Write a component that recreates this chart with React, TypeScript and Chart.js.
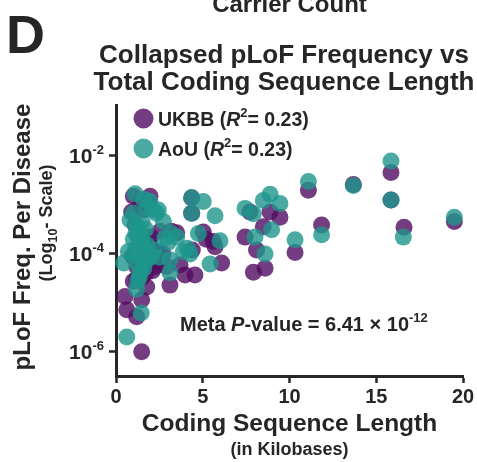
import React, { useEffect, useRef } from "react";
import { Chart, registerables } from "chart.js";

Chart.register(...registerables);

// ---- Data (x: coding sequence length in kb, y: pLoF frequency per disease) ----
const ukbbX = [
  15.85, 15.85, 13.68, 11.09, 19.5, 16.6, 11.85, 10.32, 8.88, 9.45, 7.72, 7.44, 8.49, 8.1, 7.92, 8.59,
  4.36, 4.36, 5.03, 5.61, 5.71, 6.09, 3.98, 4.55, 3.11, 3.5, 3.19, 1.96, 1.0, 0.9, 0.52, 0.62, 1.19,
  1.0, 1.48, 1.48, 1.77, 2.44, 2.25, 3.69, 2.54, 2.34, 2.92, 1.19, 1.19, 2.35, 1.3, 1.5, 1.6, 1.8,
  1.4, 2.0, 2.1, 1.7, 1.2, 0.95, 1.1, 2.0, 1.5, 2.7, 1.6, 1.4, 4.4, 5.2, 2.2, 1.9,
];
const ukbbFreq = [
  4.6e-3, 1.26e-3, 2.6e-3, 2.0e-3, 4.6e-4, 3.5e-4, 3.9e-4, 1.07e-4, 7.2e-4, 5.6e-4, 7.2e-4, 2.2e-4, 3.6e-4, 1.2e-4, 4.2e-5, 5.1e-5,
  1.4e-3, 6.8e-4, 2.8e-4, 1.8e-4, 1.4e-4, 6.5e-5, 3.7e-5, 3.7e-5, 2.3e-5, 2.7e-4, 2.9e-4, 1.5e-3, 1.5e-3, 7.2e-4, 1.35e-5, 7.2e-6, 5.2e-6,
  2.75e-5, 1.15e-5, 1.0e-6, 2.1e-5, 7.6e-5, 5.5e-5, 6.0e-5, 2.9e-4, 7.6e-5, 5.5e-5, 3.0e-5, 5.5e-5, 1.1e-4, 2.5e-4, 1.5e-4, 9e-5, 6e-5,
  7e-5, 1.3e-4, 4.5e-5, 4e-5, 1.1e-4, 9e-5, 4e-4, 2.2e-4, 3.3e-5, 1.0e-4, 8e-4, 1.1e-3, 1.2e-4, 2.0e-4, 6.5e-5, 1.7e-4,
];

const aouX = [
  15.85, 15.85, 13.68, 11.09, 19.5, 16.56, 11.85, 10.32, 8.88, 8.49, 9.45, 7.44, 7.92, 8.97, 8.01, 8.59,
  5.71, 5.03, 4.36, 4.36, 4.75, 5.99, 5.42, 4.27, 3.88, 3.11, 3.11, 3.5, 2.82, 2.73, 2.44, 1.96, 1.1,
  1.0, 0.81, 0.71, 0.45, 1.19, 1.45, 0.62, 2.34, 1.6, 1.8, 2.1, 4.1, 3.2, 3.0,
  1.2, 1.3, 1.4, 1.5, 1.3, 1.4, 1.6, 1.2, 1.5, 1.7, 1.3, 1.6, 1.4, 1.8, 1.9, 2.0, 1.1, 1.0, 1.7, 1.5,
  2.2, 1.25, 1.35, 2.5, 1.15, 1.55,
];
const aouFreq = [
  7.9e-3, 1.26e-3, 2.5e-3, 3.0e-3, 5.6e-4, 2.2e-4, 2.45e-4, 1.95e-4, 1.66e-3, 1.23e-3, 1.07e-3, 8.5e-4, 6.6e-4, 3.1e-4, 2.2e-4, 1.0e-4,
  6.0e-4, 1.17e-3, 1.4e-3, 6.8e-4, 2.6e-4, 1.85e-4, 6.2e-5, 1.0e-4, 1.12e-4, 7.6e-5, 4.1e-5, 2.2e-4, 2.1e-4, 4.6e-4, 7.9e-4, 1.17e-3, 1.7e-3,
  6.8e-4, 4.9e-4, 1.12e-4, 6.5e-5, 1.9e-5, 6.2e-6, 2.0e-6, 6.8e-4, 1.3e-3, 9e-4, 8e-4, 1.3e-4, 2.6e-4, 1.7e-4,
  3.8e-4, 3.0e-4, 2.4e-4, 2.0e-4, 1.6e-4, 1.3e-4, 1.1e-4, 9e-5, 8e-5, 7e-5, 6e-5, 5e-5, 4.3e-5, 1.5e-4, 1.0e-4, 8.5e-5, 1.2e-4, 2.0e-4, 3.2e-4, 4.5e-4,
  1.2e-4, 2.8e-5, 3.5e-5, 8.5e-5, 2.6e-4, 1.45e-4,
];

const xTicks = [0, 5, 10, 15, 20];
const yTickExponents = [-6, -4, -2];
const seriesNames = ["UKBB", "AoU"];
const rSquared = ["0.23", "0.23"];
const metaPMantissa = "6.41";
const metaPExponent = "-12";

const FONT = '"Liberation Sans", Arial, Helvetica, sans-serif';
const INK = "#262626";
const PURPLE = "rgba(82, 12, 98, 0.8)";
const TEAL = "rgba(30, 150, 140, 0.8)";

function drawRich(ctx: CanvasRenderingContext2D, x: number, y: number, parts: { t: string; size: number; italic?: boolean; dy?: number }[]) {
  let cx = x;
  for (const p of parts) {
    ctx.font = `${p.italic ? "italic " : ""}bold ${p.size}px ${FONT}`;
    ctx.fillText(p.t, cx, y + (p.dy || 0));
    cx += ctx.measureText(p.t).width;
  }
  return cx - x;
}
function measureRich(ctx: CanvasRenderingContext2D, parts: { t: string; size: number; italic?: boolean }[]) {
  let w = 0;
  for (const p of parts) {
    ctx.font = `${p.italic ? "italic " : ""}bold ${p.size}px ${FONT}`;
    w += ctx.measureText(p.t).width;
  }
  return w;
}

const textPlugin = {
  id: "texts",
  afterDraw(chart: any) {
    const ctx: CanvasRenderingContext2D = chart.ctx;
    const area = chart.chartArea;
    const cx = (area.left + area.right) / 2;
    ctx.save();
    ctx.fillStyle = INK;
    ctx.textBaseline = "alphabetic";

    // cut-off heading from the panel above
    ctx.textAlign = "center";
    ctx.font = `bold 24px ${FONT}`;
    ctx.fillText("Carrier Count", cx, 12);

    // panel letter
    ctx.textAlign = "left";
    ctx.font = `bold 54px ${FONT}`;
    ctx.fillText("D", 6, 53);

    // title
    ctx.textAlign = "center";
    ctx.font = `bold 26px ${FONT}`;
    ctx.fillText("Collapsed pLoF Frequency vs", 284, 63);
    ctx.fillText("Total Coding Sequence Length", 284, 90);

    // x axis title
    ctx.font = `bold 24.5px ${FONT}`;
    ctx.fillText("Coding Sequence Length", cx, 431);
    ctx.font = `bold 18px ${FONT}`;
    ctx.fillText("(in Kilobases)", cx, 455);

    // y axis title (rotated)
    ctx.save();
    ctx.translate(30, 237);
    ctx.rotate(-Math.PI / 2);
    ctx.font = `bold 24px ${FONT}`;
    ctx.textAlign = "center";
    ctx.fillText("pLoF Freq. Per Disease", 0, 0);
    ctx.restore();

    ctx.save();
    ctx.translate(52, 223);
    ctx.rotate(-Math.PI / 2);
    ctx.textAlign = "left";
    const sub = [
      { t: "(Log", size: 18 },
      { t: "10", size: 12.5, dy: 5 },
      { t: "- Scale)", size: 18 },
    ];
    const sw = measureRich(ctx, sub);
    drawRich(ctx, -sw / 2, 0, sub);
    ctx.restore();

    // y tick labels 10^n
    const yScale = chart.scales.y;
    ctx.textAlign = "left";
    for (const e of yTickExponents) {
      const py = yScale.getPixelForValue(Math.pow(10, e));
      const parts = [
        { t: "10", size: 21 },
        { t: String(e), size: 13, dy: -9 },
      ];
      const w = measureRich(ctx, parts);
      drawRich(ctx, 104 - w, py + 7.5, parts);
    }

    // legend
    const colors = [PURPLE, TEAL];
    const legendY = [118.5, 148.5];
    for (let i = 0; i < seriesNames.length; i++) {
      ctx.beginPath();
      ctx.fillStyle = colors[i];
      ctx.arc(143.5, legendY[i], 10, 0, Math.PI * 2);
      ctx.fill();
      ctx.fillStyle = INK;
      drawRich(ctx, 158, legendY[i] + 7, [
        { t: seriesNames[i] + " (", size: 19.5 },
        { t: "R", size: 19.5, italic: true },
        { t: "2", size: 13, dy: -9 },
        { t: "= " + rSquared[i] + ")", size: 19.5 },
      ]);
    }

    // meta p-value
    drawRich(ctx, 180, 331, [
      { t: "Meta ", size: 20 },
      { t: "P", size: 20, italic: true },
      { t: "-value = " + metaPMantissa + " \u00d7 10", size: 20 },
      { t: metaPExponent, size: 13, dy: -9 },
    ]);

    ctx.restore();
  },
};

export default function App() {
  const ref = useRef<HTMLCanvasElement | null>(null);
  useEffect(() => {
    if (!ref.current) return;
    const chart = new Chart(ref.current, {
      type: "scatter",
      data: {
        datasets: [
          {
            label: seriesNames[0],
            data: ukbbX.map((x, i) => ({ x, y: ukbbFreq[i] })),
            backgroundColor: PURPLE,
            borderWidth: 0,
            pointRadius: 8.5,
            order: 2,
            clip: false as any,
          },
          {
            label: seriesNames[1],
            data: aouX.map((x, i) => ({ x, y: aouFreq[i] })),
            backgroundColor: TEAL,
            borderWidth: 0,
            pointRadius: 8.5,
            order: 1,
            clip: false as any,
          },
        ],
      },
      options: {
        responsive: false,
        animation: false,
        devicePixelRatio: 1,
        layout: { padding: { left: 0, right: 14, top: 105, bottom: 0 } },
        plugins: { legend: { display: false }, tooltip: { enabled: false }, title: { display: false } },
        scales: {
          x: {
            type: "linear",
            min: 0,
            max: 20,
            afterBuildTicks: (s: any) => {
              s.ticks = xTicks.map((v) => ({ value: v }));
            },
            afterFit: (s: any) => {
              s.height = 86;
            },
            ticks: { color: INK, font: { family: FONT, size: 20, weight: "bold" }, padding: 2, maxRotation: 0 },
            grid: { drawOnChartArea: false, drawTicks: true, tickLength: 7, tickWidth: 2.5, tickColor: INK, color: INK },
            border: { display: true, width: 3, color: INK },
          },
          y: {
            type: "logarithmic",
            min: 3.2e-7,
            max: 0.11,
            afterBuildTicks: (s: any) => {
              s.ticks = yTickExponents.map((e) => ({ value: Math.pow(10, e) }));
            },
            afterFit: (s: any) => {
              s.width = 116;
            },
            ticks: { display: false },
            grid: { drawOnChartArea: false, drawTicks: true, tickLength: 7, tickWidth: 2.5, tickColor: INK, color: INK },
            border: { display: true, width: 3, color: INK },
          },
        },
      } as any,
      plugins: [textPlugin],
    });
    return () => chart.destroy();
  }, []);
  return (
    <div style={{ position: "fixed", left: 0, top: 0, width: 477, height: 462, background: "#fff" }}>
      <canvas ref={ref} width={477} height={462} style={{ width: 477, height: 462 }} />
    </div>
  );
}
